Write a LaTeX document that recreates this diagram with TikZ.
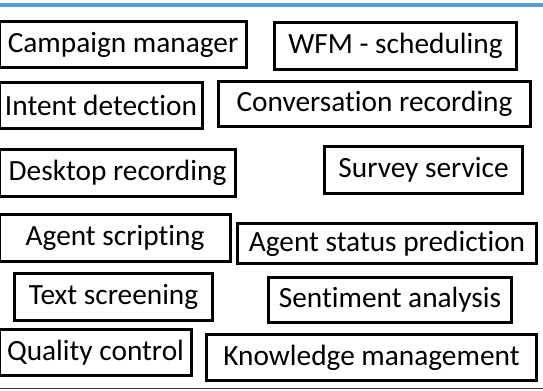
\documentclass[tikz,border=0pt]{standalone}
\usepackage{fontspec}
\setmainfont{Carlito}[Ligatures=NoCommon]
\begin{document}
\begin{tikzpicture}[x=0.75pt,y=0.75pt,yscale=-1,xscale=1,
  box/.style={draw, line width=2.2pt, rectangle, inner sep=0pt, font=\fontsize{22}{26}\selectfont}]
\useasboundingbox (0,0) rectangle (543,390);

%Top rule
\draw [color={rgb, 255:red, 91; green, 155; blue, 213 }, line width=2.4pt] (0,5) -- (543,5) ;
%Bottom rule
\draw [color={rgb, 255:red, 60; green, 60; blue, 60 }, line width=1.4pt] (0,388.5) -- (543,388.5) ;

% Text Node
\draw (123,44.5) node [box, minimum width=185.25pt, minimum height=34.5pt] (campaign) {Campaign manager};
% Text Node
\draw (395.5,46) node [box, minimum width=181.5pt, minimum height=35.25pt] (wfm) {WFM - scheduling};
% Text Node
\draw (101,105.5) node [box, minimum width=152.25pt, minimum height=34.5pt] (intent) {Intent detection};
% Text Node
\draw (374.5,104) node [box, minimum width=234pt, minimum height=33.75pt] (conversation) {Conversation recording};
% Text Node
\draw (117.5,173) node [box, minimum width=177pt, minimum height=35.25pt] (desktop) {Desktop recording};
% Text Node
\draw (423.5,170) node [box, minimum width=148.5pt, minimum height=35.25pt] (survey) {Survey service};
% Text Node
\draw (115,238) node [box, minimum width=173.25pt, minimum height=35.25pt] (scripting) {Agent scripting};
% Text Node
\draw (387,243.5) node [box, minimum width=224.25pt, minimum height=30pt] (status) {Agent status prediction};
% Text Node
\draw (113.5,297) node [box, minimum width=148.5pt, minimum height=35.25pt] (screening) {Text screening};
% Text Node
\draw (390,300) node [box, minimum width=182.25pt, minimum height=33.75pt] (sentiment) {Sentiment analysis};
% Text Node
\draw (95.5,352.5) node [box, minimum width=144pt, minimum height=34.5pt] (quality) {Quality control};
% Text Node
\draw (371.5,357.5) node [box, minimum width=247.5pt, minimum height=34.5pt] (knowledge) {Knowledge management};

\end{tikzpicture}
\end{document}
